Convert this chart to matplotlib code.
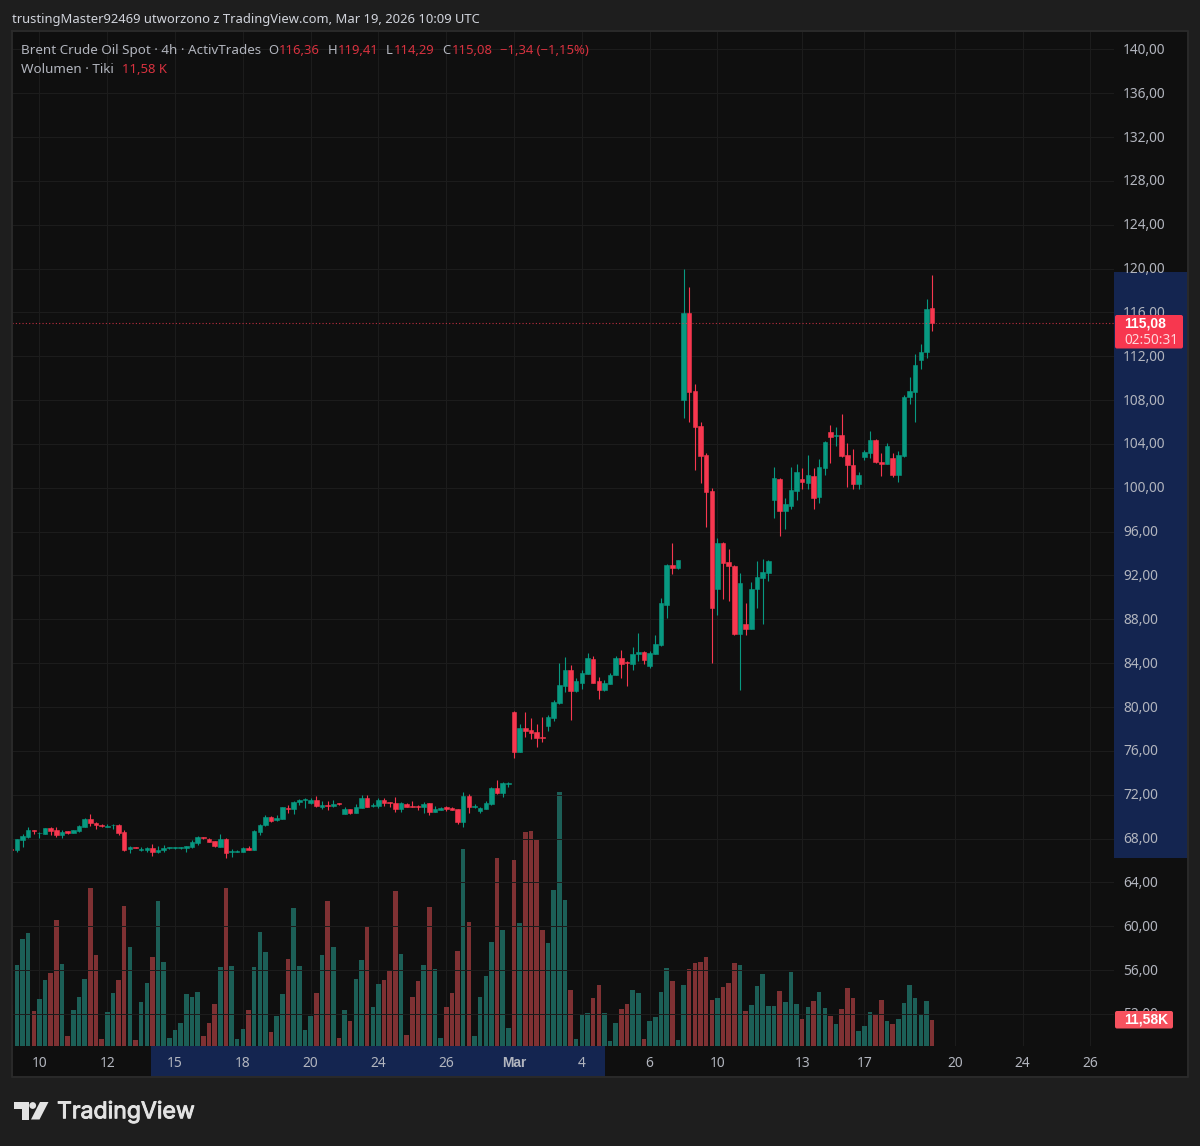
import matplotlib
matplotlib.use("Agg")
import matplotlib.pyplot as plt
import matplotlib.ticker as ticker
import matplotlib.patheffects as pe
from matplotlib.patches import FancyBboxPatch, Polygon, Rectangle, Circle

W, H = 1200, 1146

opens = [
    67.03, 66.96, 67.87, 68.11, 68.75, 68.48, 68.45, 68.93, 68.75, 68.29,
    68.66, 68.48, 68.72, 69.05, 69.78, 69.45, 69.24, 69.08, 69.21, 69.24,
    68.60, 67.08, 67.20, 66.96, 66.96, 67.17, 66.80, 66.96, 67.11, 67.11,
    67.11, 67.14, 67.20, 67.59, 68.11, 67.93, 67.78, 67.26, 67.96, 66.80,
    66.80, 66.77, 67.14, 66.96, 68.63, 69.21, 69.97, 69.69, 69.81, 70.82,
    70.70, 71.33, 71.52, 71.21, 71.55, 70.91, 71.09, 70.97, 71.24, 70.27,
    70.70, 70.36, 70.82, 71.70, 71.00, 70.97, 71.55, 71.30, 71.24, 70.70,
    71.18, 70.97, 70.97, 70.88, 71.21, 70.45, 70.60, 70.85, 70.82, 70.70,
    69.51, 71.88, 70.88, 70.51, 70.70, 71.12, 72.61, 72.13, 72.95, 79.58,
    75.90, 78.09, 77.90, 77.72, 77.26, 78.24, 79.03, 80.34, 81.92, 83.38,
    81.43, 82.19, 83.01, 84.35, 82.34, 81.52, 82.13, 82.95, 84.44, 84.08,
    83.96, 84.81, 85.02, 83.71, 84.87, 85.63, 89.34, 92.96, 92.65, 108.01,
    115.91, 108.83, 105.64, 102.99, 99.71, 90.74, 94.99, 93.23, 92.87, 86.63,
    87.60, 87.12, 90.74, 91.74, 92.26, 98.89, 100.80, 97.85, 98.37, 99.74,
    100.80, 100.47, 101.07, 99.13, 101.80, 105.06, 104.75, 104.78, 102.96, 102.08,
    100.34, 102.81, 103.20, 104.36, 102.35, 102.20, 102.69, 101.20, 102.87, 108.25,
    108.74, 111.69, 112.36, 116.36,
]
highs = [
    67.03, 67.93, 68.38, 69.02, 68.75, 68.60, 68.93, 69.02, 69.02, 68.75,
    68.66, 68.81, 69.27, 69.84, 70.21, 69.51, 69.33, 69.33, 69.30, 69.30,
    68.78, 67.35, 67.20, 67.26, 67.26, 67.47, 67.35, 67.41, 67.26, 67.20,
    67.26, 67.35, 67.84, 68.23, 68.14, 68.02, 67.78, 68.42, 68.02, 67.08,
    66.93, 67.20, 67.32, 68.78, 69.36, 70.12, 70.03, 70.12, 70.91, 71.03,
    71.46, 71.58, 71.70, 71.70, 71.88, 71.43, 71.43, 71.52, 71.27, 70.91,
    70.73, 71.12, 71.94, 71.94, 71.27, 71.70, 71.70, 71.33, 71.76, 71.33,
    71.21, 71.43, 71.03, 71.33, 71.27, 70.97, 70.85, 70.97, 70.91, 70.73,
    72.28, 72.06, 71.15, 70.88, 71.46, 72.67, 73.37, 73.13, 73.16, 79.61,
    78.42, 79.58, 79.00, 78.42, 79.06, 79.24, 80.64, 83.99, 84.59, 83.83,
    82.65, 83.38, 84.93, 84.69, 82.77, 82.47, 83.07, 84.69, 85.20, 84.20,
    85.51, 86.72, 85.11, 85.11, 86.54, 89.95, 93.02, 94.99, 93.41, 119.96,
    118.35, 109.47, 106.03, 103.14, 99.95, 95.39, 95.10, 94.42, 92.96, 92.23,
    89.46, 91.44, 93.32, 93.50, 93.38, 101.87, 100.86, 99.10, 101.93, 102.17,
    101.77, 103.00, 101.77, 102.59, 104.27, 105.73, 105.51, 106.73, 104.05, 103.54,
    101.44, 103.45, 105.21, 104.42, 103.14, 104.11, 103.14, 103.35, 108.46, 110.14,
    112.20, 113.12, 117.22, 119.41,
]
lows = [
    66.92, 66.80, 67.20, 68.02, 68.45, 68.02, 68.42, 68.35, 68.17, 68.02,
    68.45, 68.48, 68.63, 69.02, 69.12, 68.87, 69.08, 69.02, 68.87, 68.35,
    66.90, 66.71, 67.11, 66.90, 66.80, 66.44, 66.71, 66.80, 67.08, 67.08,
    67.08, 66.77, 67.17, 67.44, 67.99, 67.65, 67.26, 67.23, 66.26, 66.35,
    66.77, 66.74, 66.93, 66.93, 68.35, 69.15, 69.54, 69.63, 69.78, 70.33,
    70.21, 71.06, 70.79, 71.15, 70.91, 70.70, 70.60, 70.91, 71.03, 70.24,
    70.27, 70.30, 70.76, 70.85, 70.88, 70.79, 70.97, 70.91, 70.45, 70.45,
    70.85, 70.88, 70.64, 70.36, 70.18, 70.42, 70.57, 70.51, 70.60, 69.33,
    69.08, 70.36, 70.82, 70.36, 70.67, 71.09, 72.09, 71.79, 72.73, 75.38,
    75.90, 77.30, 77.08, 76.32, 76.84, 77.84, 78.76, 80.31, 81.40, 78.82,
    81.40, 81.67, 82.98, 82.16, 80.76, 81.43, 82.10, 82.92, 82.68, 81.95,
    83.38, 84.20, 83.96, 83.53, 84.84, 85.54, 88.15, 92.17, 92.59, 106.40,
    105.97, 101.62, 100.47, 96.45, 84.05, 88.40, 89.82, 89.64, 86.54, 81.52,
    86.54, 87.09, 89.06, 87.60, 91.50, 97.27, 95.60, 96.27, 98.03, 98.88,
    99.86, 99.86, 98.03, 98.64, 101.20, 102.29, 103.81, 102.84, 100.10, 99.86,
    99.92, 102.53, 102.69, 102.29, 101.07, 102.17, 100.98, 100.53, 102.84, 107.64,
    105.97, 110.84, 111.84, 114.29,
]
closes = [
    66.96, 67.93, 68.20, 68.78, 68.69, 68.54, 68.93, 68.72, 68.29, 68.60,
    68.48, 68.78, 69.12, 69.78, 69.39, 69.24, 69.12, 69.15, 69.27, 68.51,
    66.96, 67.20, 67.11, 67.05, 67.17, 66.77, 66.99, 67.11, 67.20, 67.20,
    67.20, 67.29, 67.68, 68.11, 68.02, 67.68, 67.32, 67.96, 66.68, 66.86,
    66.86, 67.17, 66.96, 68.69, 69.27, 69.94, 69.60, 69.84, 70.85, 70.70,
    71.33, 71.49, 71.64, 71.55, 70.97, 71.09, 71.00, 71.18, 71.12, 70.70,
    70.36, 70.88, 71.70, 70.88, 71.09, 71.52, 71.21, 71.21, 70.70, 71.21,
    70.88, 70.91, 70.91, 71.18, 70.45, 70.73, 70.82, 70.73, 70.64, 69.51,
    71.88, 70.88, 70.97, 70.82, 71.21, 72.61, 72.13, 73.04, 73.04, 75.90,
    78.09, 77.81, 77.66, 77.17, 77.14, 79.06, 80.49, 82.01, 83.38, 81.49,
    82.34, 83.10, 84.44, 82.19, 81.52, 82.16, 82.92, 84.44, 83.96, 83.99,
    84.84, 85.00, 84.32, 84.93, 85.75, 89.46, 92.96, 92.68, 93.38, 115.91,
    108.77, 105.57, 102.90, 99.65, 89.06, 94.99, 93.17, 92.84, 86.63, 91.28,
    87.12, 90.77, 91.86, 92.29, 93.29, 100.86, 97.88, 98.52, 99.77, 101.41,
    100.56, 101.17, 99.10, 101.93, 104.21, 104.63, 104.81, 102.90, 102.05, 100.34,
    101.20, 103.26, 104.36, 102.38, 102.20, 103.81, 101.17, 103.02, 108.31, 108.83,
    111.17, 112.42, 116.34, 115.08,
]
volume_k = [
    18.1, 36.0, 47.5, 50.3, 15.6, 20.9, 29.4, 32.4, 56.1, 36.4,
    4.2, 16.0, 21.8, 29.8, 70.4, 40.5, 3.0, 15.1, 23.3, 29.4,
    62.2, 44.1, 2.5, 19.6, 27.9, 39.3, 64.6, 37.4, 3.4, 7.1,
    10.2, 23.0, 21.8, 23.8, 4.2, 10.2, 18.4, 35.2, 70.4, 35.6,
    3.0, 7.4, 16.0, 35.2, 50.8, 41.9, 6.2, 13.2, 23.0, 38.5,
    61.5, 35.6, 7.0, 13.1, 23.3, 40.5, 64.6, 44.1, 3.3, 16.0,
    11.1, 29.8, 38.2, 53.2, 17.2, 27.5, 29.4, 33.6, 69.0, 41.0,
    4.9, 21.8, 28.7, 36.1, 61.9, 34.3, 3.3, 17.4, 23.3, 42.3,
    87.6, 54.9, 4.2, 21.8, 31.2, 46.3, 83.4, 51.7, 7.9, 82.7,
    54.5, 95.3, 95.8, 92.1, 51.7, 45.9, 69.5, 113.0, 65.0, 24.9,
    3.0, 14.0, 14.7, 21.2, 27.0, 14.7, 2.2, 10.2, 16.3, 18.4,
    24.9, 23.5, 3.0, 11.1, 12.9, 23.8, 34.7, 28.7, 2.5, 27.0,
    33.9, 37.0, 37.4, 39.6, 20.5, 21.4, 26.3, 27.9, 37.0, 36.1,
    15.6, 18.1, 26.7, 31.9, 17.7, 17.7, 24.2, 19.2, 32.7, 18.4,
    12.0, 17.2, 20.0, 23.8, 16.8, 13.1, 9.4, 16.5, 25.8, 21.4,
    6.7, 8.6, 15.1, 13.5, 20.5, 11.1, 9.4, 11.9, 18.9, 27.0,
    21.4, 14.0, 20.0, 11.58,
]

price_ticks = list(range(52, 144, 4))
time_pos = [5, 17, 29, 41, 53, 65, 77, 89, 101, 113, 125, 140, 151, 167, 179, 191]
time_labels = ["10", "12", "15", "18", "20", "24", "26", "Mar", "4", "6", "10", "13", "17", "20", "24", "26"]
last_price = 115.08

BG = "#1e1e1e"
PANE = "#0f0f0f"
GRID = "#1c1c1c"
BORDER = "#2a2a2a"
TXT = "#b2b5be"
UP = "#089981"
DOWN = "#f7374f"
UP_VOL = "#1c5f57"
DOWN_VOL = "#7f3133"
HILITE = "#142550"
FONT = "Noto Sans"
BOLD_FONT = "Liberation Sans"

plt.rcParams["font.family"] = [FONT, "DejaVu Sans"]


def px_axes(x0, y0, x1, y1):
    # pixel box from the top left corner -> figure axes
    return fig.add_axes([x0 / W, 1 - y1 / H, (x1 - x0) / W, (y1 - y0) / H])


fig = plt.figure(figsize=(W / 100, H / 100), dpi=100, facecolor=BG)

# scale: 5.65 px per bar, 10.96 px per price unit, 2.245 px per 1K volume
xlim = ((12 - 11.2) / 5.65, (1114 - 11.2) / 5.65)
ylim = (80 - (1046 - 707) / 10.96, 80 + (707 - 31) / 10.96)

xs = list(range(len(opens)))
is_up = [c >= o for o, c in zip(opens, closes)]

# volume pane sits behind the candles
ax_vol = px_axes(12, 31, 1114, 1046)
ax_vol.set_facecolor(PANE)
ax_vol.set_xlim(xlim)
ax_vol.set_ylim(-0.2, (1046 - 31) / 2.245)
ax_vol.set_xticks(time_pos)
ax_vol.set_yticks([])
ax_vol.grid(axis="x", color=GRID, linewidth=0.72)
ax_vol.set_axisbelow(True)
ax_vol.tick_params(length=0, labelbottom=False)
ax_vol.bar(xs, volume_k, width=0.8, color=[UP_VOL if u else DOWN_VOL for u in is_up], linewidth=0, zorder=2)
for s in ax_vol.spines.values():
    s.set_visible(False)

ax = px_axes(12, 31, 1114, 1046)
ax.patch.set_alpha(0)
ax.set_xlim(xlim)
ax.set_ylim(ylim)
ax.set_yticks(price_ticks)
ax.set_xticks([])
ax.grid(axis="y", color=GRID, linewidth=0.72)
ax.set_axisbelow(True)
ax.tick_params(length=0, labelleft=False)
for s in ax.spines.values():
    s.set_visible(False)

colors = [UP if u else DOWN for u in is_up]
ax.vlines(xs, lows, highs, colors=colors, linewidth=0.8, zorder=3)
body_low = [min(o, c) for o, c in zip(opens, closes)]
body_h = [abs(c - o) for o, c in zip(opens, closes)]
ax.bar(xs, body_h, bottom=body_low, width=0.8, color=colors, edgecolor=colors, linewidth=0.4, zorder=4)
ax.axhline(last_price, color=DOWN, linewidth=0.8, linestyle=(0, (1, 2)), alpha=0.75, zorder=5)

# price scale, one px lower so the labels sit just above their grid lines
ax_p = px_axes(1114, 32, 1188, 1047)
ax_p.set_facecolor(PANE)
ax_p.set_xlim(0, 74)
ax_p.set_ylim(ylim)
ax_p.set_xticks([])
ax_p.set_yticks(price_ticks)
ax_p.yaxis.set_major_formatter(ticker.FuncFormatter(lambda v, _: f"{v:.2f}".replace(".", ",")))
ax_p.yaxis.tick_left()
ax_p.tick_params(axis="y", length=0, direction="in", pad=-6.5, labelcolor=TXT, labelsize=9.9)
for lab in ax_p.get_yticklabels():
    lab.set_ha("left")
    lab.set_va("center")
ax_p.axhspan(66.31, 119.78, color=HILITE, linewidth=0, zorder=0)
for s in ax_p.spines.values():
    s.set_visible(False)

# time scale
ax_t = px_axes(12, 1046, 1114, 1077)
ax_t.set_facecolor(PANE)
ax_t.set_xlim(xlim)
ax_t.set_ylim(0, 1)
ax_t.set_yticks([])
ax_t.set_xticks(time_pos)
ax_t.set_xticklabels(time_labels)
ax_t.tick_params(axis="x", length=0, direction="in", pad=-15, labelcolor=TXT, labelsize=9.9)
mar_label = ax_t.get_xticklabels()[7]
mar_label.set_fontweight("bold")
mar_label.set_family(BOLD_FONT)
ax_t.axvspan((151 - 11.2) / 5.65, (605 - 11.2) / 5.65, color=HILITE, linewidth=0, zorder=0)
for s in ax_t.spines.values():
    s.set_visible(False)

# overlay in pixels for frame, tags, legend and logo
ov = fig.add_axes([0, 0, 1, 1], zorder=10)
ov.set_xlim(0, W)
ov.set_ylim(H, 0)
ov.axis("off")
ov.patch.set_alpha(0)

ov.add_patch(Rectangle((1114, 1046), 74, 31, color=PANE, linewidth=0))
ov.plot([12, 1188, 1188, 12, 12], [31, 31, 1077, 1077, 31], color=BORDER, linewidth=1.4)

ov.add_patch(FancyBboxPatch((1115, 315), 68, 33.5, boxstyle="round,pad=0,rounding_size=2", color="#f7374f", linewidth=0))
ov.text(1124, 323.5, "115,08", color="white", fontsize=10, fontweight="bold", family=BOLD_FONT, va="center")
ov.text(1124, 340, "02:50:31", color="#ffd5da", fontsize=9.8, va="center")
ov.add_patch(FancyBboxPatch((1115, 1011), 58, 17.5, boxstyle="round,pad=0,rounding_size=2", color="#f7525f", linewidth=0))
ov.text(1124, 1019.5, "11,58K", color="white", fontsize=10, fontweight="bold", family=BOLD_FONT, va="center")

ov.text(12, 22.5, "trustingMaster92469 utworzono z TradingView.com, Mar 19, 2026 10:09 UTC",
        color="#d1d4dc", fontsize=9.35, va="baseline")

LEG_RED = "#d8323f"
legend = [
    (21, 54, "Brent Crude Oil Spot · 4h · ActivTrades", TXT, 9.7),
    (268.5, 54, "O", TXT, 9.4), (279, 54, "116,36", LEG_RED, 9.4),
    (327.5, 54, "H", TXT, 9.4), (337.5, 54, "119,41", LEG_RED, 9.4),
    (385.5, 54, "L", TXT, 9.4), (394, 54, "114,29", LEG_RED, 9.4),
    (442.5, 54, "C", TXT, 9.4), (452, 54, "115,08", LEG_RED, 9.4),
    (500.5, 54, "−1,34 (−1,15%)", LEG_RED, 9.4),
    (21, 73, "Wolumen · Tiki", TXT, 9.7),
    (122.5, 73, "11,58 K", LEG_RED, 9.4),
]
for x, y, s, c, size in legend:
    ov.text(x, y, s, color=c, fontsize=size, va="baseline")

# TradingView logo
LOGO = "#e3e3e3"
ov.add_patch(Polygon([(14, 1102), (28.5, 1102), (28.5, 1119.5), (21.5, 1119.5), (21.5, 1109), (14, 1109)], color=LOGO, linewidth=0))
ov.add_patch(Circle((32.7, 1105.5), 3.4, color=LOGO, linewidth=0))
ov.add_patch(Polygon([(40, 1102), (48.5, 1102), (39.5, 1119.5), (31, 1119.5)], color=LOGO, linewidth=0))
logo_text = ov.text(57, 1112, "TradingView", color=LOGO, fontsize=16.6, family="Inter", va="center")
logo_text.set_path_effects([pe.withStroke(linewidth=0.7, foreground=LOGO)])

fig.savefig("out.png", dpi=100, facecolor=BG)
